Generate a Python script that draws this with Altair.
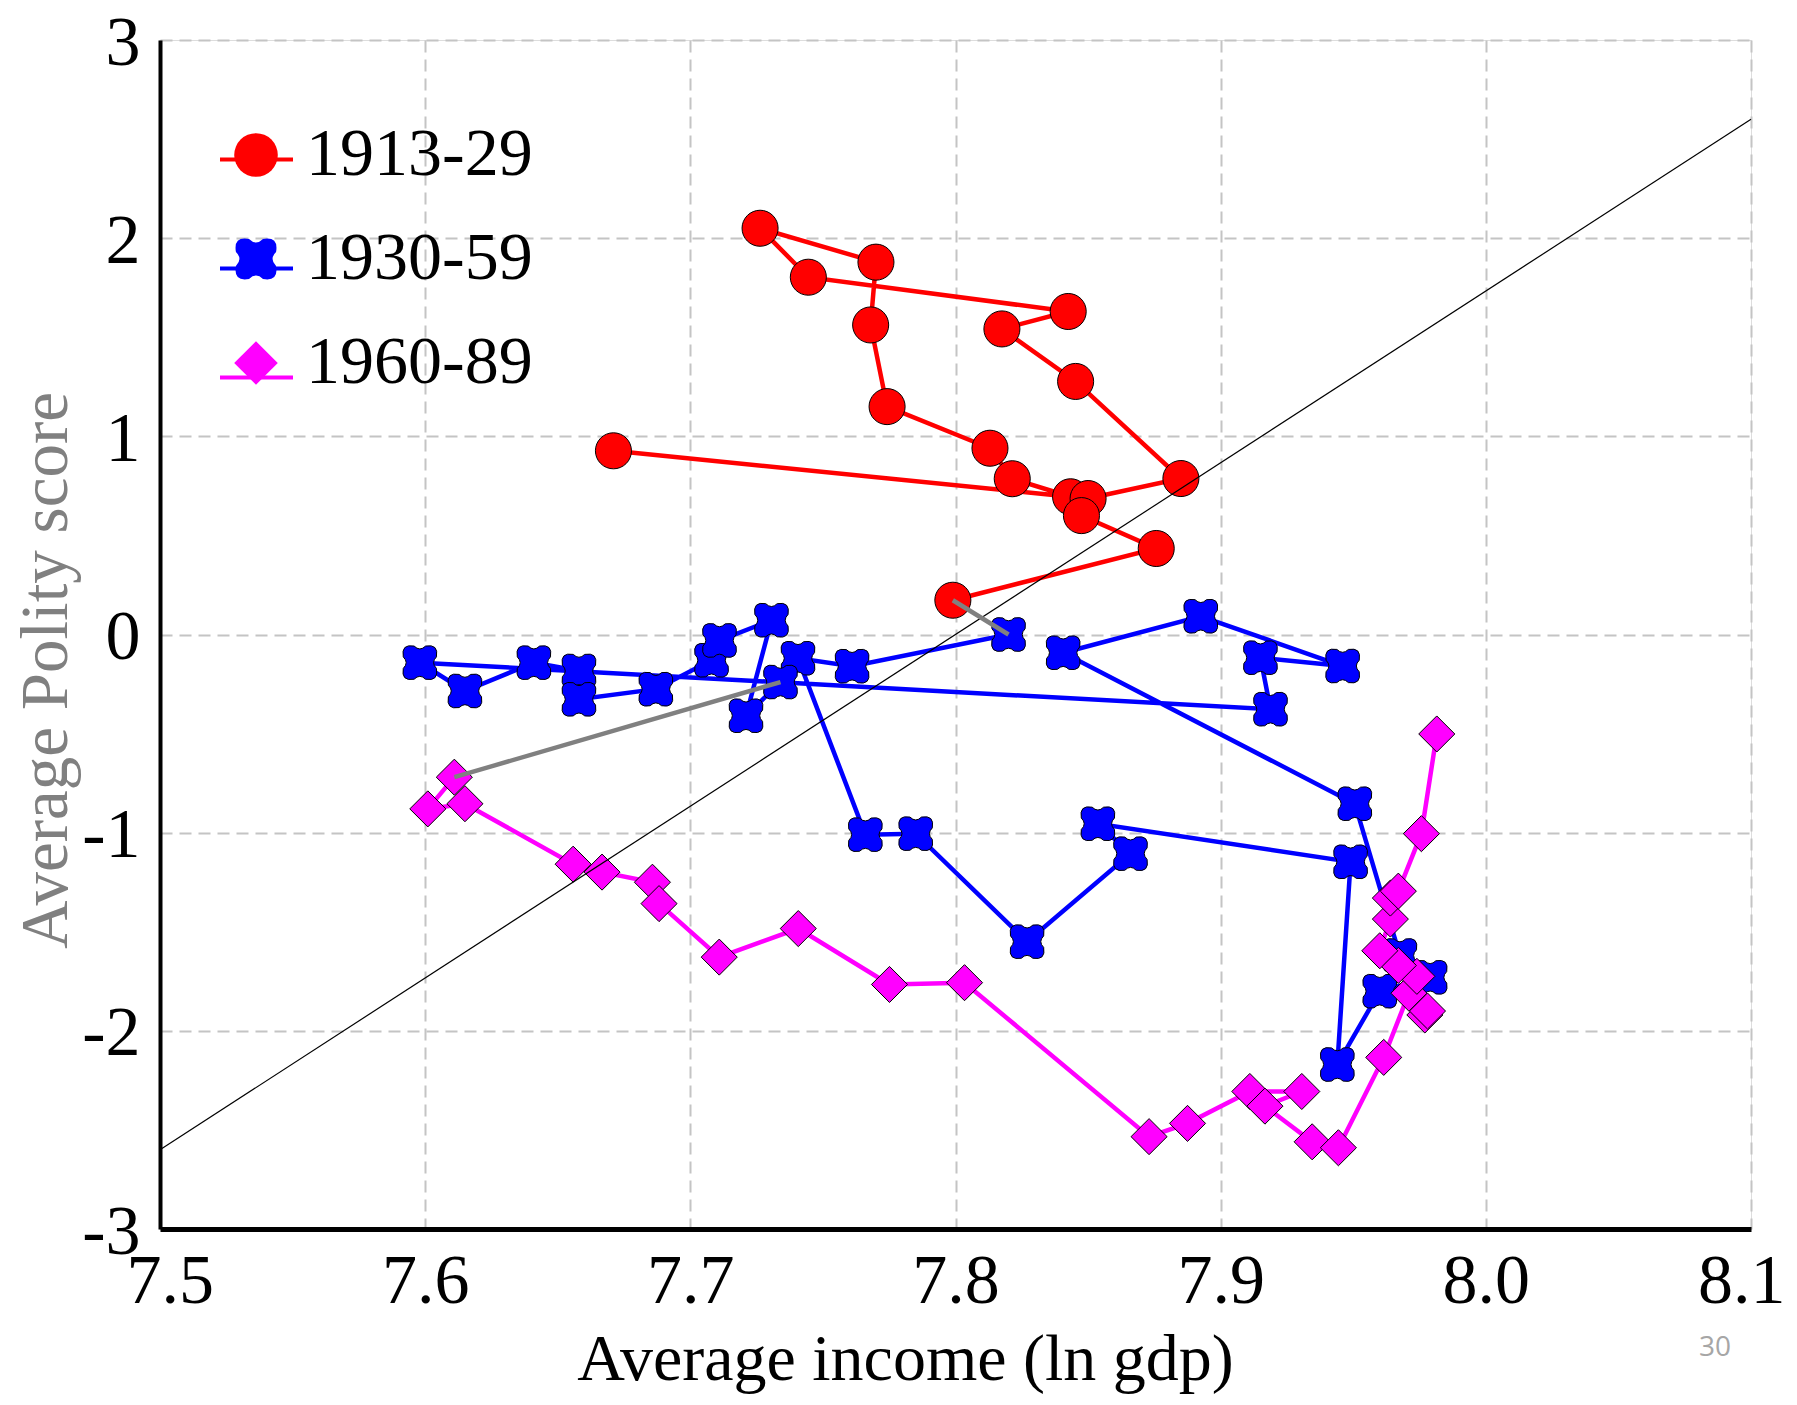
import altair as alt
import pandas as pd

periods = ["1913-29", "1930-59", "1960-89"]
colors = ["#ff0000", "#0000ff", "#ff00ff"]

# 1913-29 (red), in time order
red_x = [7.671, 7.8434, 7.8214, 7.813, 7.7742, 7.768, 7.770, 7.7263, 7.7445,
         7.8425, 7.8175, 7.8453, 7.885, 7.850, 7.8475, 7.8757, 7.799]
red_y = [0.927, 0.695, 0.786, 0.94, 1.15, 1.562, 1.879, 2.05, 1.803,
         1.630, 1.542, 1.277, 0.787, 0.686, 0.60, 0.434, 0.173]

# 1930-59 (blue)
blue_x = [7.820, 7.761, 7.7406, 7.766, 7.785, 7.827, 7.866, 7.8537, 7.949, 7.944,
          7.960, 7.979, 7.9676, 7.9506, 7.8406, 7.8925, 7.946, 7.915, 7.9188, 7.598,
          7.615, 7.641, 7.658, 7.658, 7.687, 7.708, 7.711, 7.7306, 7.721, 7.734]
blue_y = [0.00, -0.16, -0.12, -1.01, -1.005, -1.55, -1.106, -0.955, -1.147, -2.17,
          -1.80, -1.73, -1.62, -0.854, -0.092, 0.092, -0.159, -0.117, -0.377, -0.142,
          -0.285, -0.142, -0.184, -0.327, -0.276, -0.13, -0.03, 0.072, -0.41, -0.24]

# 1960-89 (magenta)
mag_x = [7.611, 7.601, 7.615, 7.6558, 7.6667, 7.6857, 7.6882, 7.7109, 7.7407, 7.7751,
         7.8034, 7.873, 7.8875, 7.911, 7.9306, 7.9167, 7.9345, 7.9444, 7.9615, 7.971,
         7.977, 7.978, 7.974, 7.967, 7.960, 7.964, 7.964, 7.967, 7.9757, 7.9815]
mag_y = [-0.72, -0.88, -0.854, -1.159, -1.199, -1.25, -1.358, -1.628, -1.484, -1.766,
         -1.757, -2.534, -2.467, -2.306, -2.306, -2.38, -2.56, -2.59, -2.134, -1.81,
         -1.92, -1.90, -1.725, -1.67, -1.596, -1.436, -1.33, -1.295, -1.005, -0.502]

# reference diagonal
diag_x = [7.5, 8.1]
diag_y = [-2.6, 2.6]

x_ticks = [7.5, 7.6, 7.7, 7.8, 7.9, 8.0, 8.1]
y_ticks = [-3, -2, -1, 0, 1, 2, 3]

rows = []
for p, xs, ys in zip(periods, [red_x, blue_x, mag_x], [red_y, blue_y, mag_y]):
    for i, (xv, yv) in enumerate(zip(xs, ys)):
        rows.append({"period": p, "line_key": p + " ", "order": i, "x": xv, "y": yv})
df = pd.DataFrame(rows)

conn = pd.DataFrame({
    "seg": [0, 0, 1, 1],
    "order": [0, 1, 0, 1],
    "x": [red_x[-1], blue_x[0], blue_x[-1], mag_x[0]],
    "y": [red_y[-1], blue_y[0], blue_y[-1], mag_y[0]],
})
diag = pd.DataFrame({"x": diag_x, "y": diag_y})

FONT = "Liberation Serif"
cross_path = ("M-0.32,-0.92 Q0,-0.6 0.32,-0.92 Q1.05,-1.05 0.92,-0.32 "
              "Q0.6,0 0.92,0.32 Q1.05,1.05 0.32,0.92 Q0,0.6 -0.32,0.92 "
              "Q-1.05,1.05 -0.92,0.32 Q-0.6,0 -0.92,-0.32 Q-1.05,-1.05 -0.32,-0.92 Z")
shapes = ["circle", cross_path, "diamond"]

xscale = alt.Scale(domain=[7.5, 8.1], nice=False, zero=False)
yscale = alt.Scale(domain=[-3, 3], nice=False, zero=False)

x_axis = alt.Axis(values=x_ticks, format=".1f", labelFont=FONT, labelFontSize=70,
                  labelColor="black", labelPadding=18, labelFlush=True, labelFlushOffset=34,
                  labelOverlap=False,
                  ticks=False, domainColor="black", domainWidth=5,
                  grid=True, gridColor="#c4c4c4", gridDash=[12, 7], gridWidth=2,
                  title="Average income (ln gdp)", titleFont=FONT, titleFontSize=66,
                  titleFontWeight="normal", titleColor="black", titleX=745, titleY=150,
                  titleBaseline="alphabetic", titleAlign="center")
y_axis = alt.Axis(values=y_ticks, labelExpr="'' + datum.value", labelFont=FONT,
                  labelFontSize=70, labelColor="black", labelPadding=20, labelFlush=False,
                  labelBaseline="alphabetic", labelOffset=24,
                  labelOverlap=False, ticks=False, domainColor="black", domainWidth=4,
                  grid=True, gridColor="#c4c4c4", gridDash=[12, 7], gridWidth=2,
                  title="Average Polity score", titleFont=FONT, titleFontSize=67,
                  titleFontWeight="normal", titleColor="#808080", titleAngle=270,
                  titleX=-94, titleY=630, titleBaseline="alphabetic", titleAlign="center")

X = alt.X("x:Q", scale=xscale, axis=x_axis)
Y = alt.Y("y:Q", scale=yscale, axis=y_axis)

line_legend = alt.Legend(orient="none", legendX=58, legendY=81, title=None,
                         symbolType="stroke", symbolSize=5329, symbolStrokeWidth=4,
                         labelExpr="' '", labelFont=FONT, labelFontSize=68, labelLimit=0,
                         labelOffset=16, rowPadding=36)
point_legend = alt.Legend(orient="none", legendX=62, legendY=81, title=None,
                          symbolSize=1900, symbolStrokeColor="black", symbolStrokeWidth=1,
                          labelFont=FONT, labelFontSize=68, labelColor="black", labelLimit=0,
                          labelOffset=16, rowPadding=36)

stroke_enc = alt.Stroke("line_key:N", scale=alt.Scale(domain=[p + " " for p in periods], range=colors),
                        legend=line_legend)
fill_enc = alt.Fill("period:N", scale=alt.Scale(domain=periods, range=colors), legend=point_legend)
shape_enc = alt.Shape("period:N", scale=alt.Scale(domain=periods, range=shapes), legend=point_legend)

base = alt.Chart(df)
layers = []
for p in periods:
    sub = base.transform_filter(alt.datum.period == p)
    layers.append(sub.mark_line(strokeWidth=4.5).encode(x=X, y=Y, stroke=stroke_enc,
                                                        order=alt.Order("order:Q")))
    layers.append(sub.mark_point(filled=True, size=1300, stroke="black", strokeWidth=1,
                                 opacity=1).encode(x=X, y=Y, fill=fill_enc, shape=shape_enc))

diag_layer = alt.Chart(diag).mark_line(color="black", strokeWidth=1.2).encode(x=X, y=Y)
conn_layer = alt.Chart(conn).mark_line(color="#808080", strokeWidth=4.5).encode(
    x=X, y=Y, detail="seg:N", order=alt.Order("order:Q"))

chart = alt.layer(*layers, diag_layer, conn_layer).properties(
    width=1591, height=1189,
    autosize=alt.AutoSizeParams(type="none"),
    padding={"left": 152, "top": 32, "right": 36, "bottom": 166},
    title=alt.TitleParams("30", orient="bottom", anchor="end", font="Open Sans",
                          fontSize=28, fontWeight="normal", color="#a6a6a6", dy=-62, dx=-54),
).configure_view(stroke="#555555", strokeDash=[2, 17], strokeWidth=1.5
).configure(background="white")

chart.save("out.html", embed_options={"renderer": "svg", "actions": False})
